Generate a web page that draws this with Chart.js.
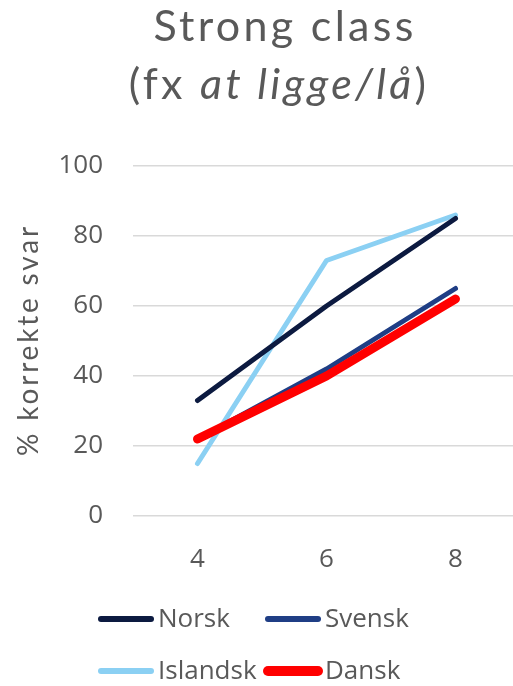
<!DOCTYPE html>
<html>
<head>
<meta charset="utf-8">
<script src="https://cdn.jsdelivr.net/npm/chart.js@4/dist/chart.umd.min.js"></script>
<style>
  html, body { margin: 0; padding: 0; background: #fff; overflow: hidden; }
  #wrap { position: relative; width: 513px; height: 686px; overflow: hidden; }
  .tline {
    position: absolute; width: 566px; text-align: center; white-space: nowrap;
    font-family: "Lato", "Open Sans", sans-serif; font-weight: 400;
    color: #595959; font-size: 43px; line-height: 50px; letter-spacing: 3.3px;
  }
  .tline i { font-style: italic; }
  canvas { position: absolute; left: 0; top: 0; }
</style>
</head>
<body>
<div id="wrap">
  <canvas id="c" width="540" height="686"></canvas>
  <div class="tline" style="top:0px; left:2px">Strong class</div>
  <div class="tline" style="top:58px; left:-4px">(fx <i>at ligge/lå</i>)</div>
</div>
<script>
// Grade levels on the x axis
const grades = ['4', '6', '8'];

// Share of correct answers (%) per language group
const norsk    = [33, 60, 85];
const svensk   = [22, 42, 65];
const islandsk = [15, 73, 86];
const dansk    = [22, 40, 62];

const yTicks = [0, 20, 40, 60, 80, 100];
const yTitle = '% korrekte svar';

const TEXT = '#595959';
const GRID = '#d9d9d9';

function series(label, data, color, width, order) {
  return {
    label, data, order,
    borderColor: color, backgroundColor: color,
    borderWidth: width, pointRadius: 0, pointHoverRadius: 0,
    borderCapStyle: 'round', borderJoinStyle: 'round',
    tension: 0, fill: false
  };
}

// Rotated value-axis title with wide letter spacing
const axisTitle = {
  id: 'axisTitle',
  afterDraw(chart) {
    const ctx = chart.ctx;
    const a = chart.chartArea;
    ctx.save();
    ctx.translate(29, (a.top + a.bottom) / 2);
    ctx.rotate(-Math.PI / 2);
    ctx.font = '400 28px "Lato", "Open Sans", sans-serif';
    if ('letterSpacing' in ctx) ctx.letterSpacing = '2.8px';
    ctx.fillStyle = TEXT;
    ctx.textAlign = 'center';
    ctx.textBaseline = 'middle';
    ctx.fillText(yTitle, 1, 0);
    ctx.restore();
  }
};

// Two-column legend under the plot
const gridLegend = {
  id: 'gridLegend',
  afterDraw(chart) {
    const ctx = chart.ctx;
    const cols = [98, 265];
    const rows = [619, 671];
    ctx.save();
    ctx.font = '26px "Open Sans", sans-serif';
    ctx.fillStyle = TEXT;
    ctx.textBaseline = 'middle';
    ctx.textAlign = 'left';
    chart.data.datasets.forEach((ds, i) => {
      const x = cols[i % 2];
      const y = rows[Math.floor(i / 2)];
      ctx.strokeStyle = ds.borderColor;
      ctx.lineWidth = ds.borderWidth + 1;
      ctx.lineCap = 'round';
      ctx.beginPath();
      ctx.moveTo(x + 3, y);
      ctx.lineTo(x + 53, y);
      ctx.stroke();
      ctx.fillText(ds.label, x + 60, y + 1);
    });
    ctx.restore();
  }
};

new Chart(document.getElementById('c'), {
  type: 'line',
  data: {
    labels: grades,
    datasets: [
      series('Norsk', norsk, '#0c1a40', 5, 2),
      series('Svensk', svensk, '#1f3e85', 5, 3),
      series('Islandsk', islandsk, '#8bd0f3', 5, 4),
      series('Dansk', dansk, '#ff0000', 9, 1)
    ]
  },
  options: {
    responsive: false,
    animation: false,
    events: [],
    layout: { padding: { left: 0, top: 166, right: 20, bottom: 0 } },
    plugins: {
      legend: { display: false },
      title: { display: false },
      tooltip: { enabled: false }
    },
    scales: {
      x: {
        offset: true,
        grid: { display: false },
        border: { display: false },
        ticks: {
          color: TEXT,
          font: { family: '"Open Sans", sans-serif', size: 26 },
          padding: 20
        },
        afterFit(s) { s.height = 170; }
      },
      y: {
        min: 0, max: 100,
        afterBuildTicks(s) { s.ticks = yTicks.map(v => ({ value: v })); },
        grid: { color: GRID, lineWidth: 1.6, drawTicks: false },
        border: { display: false },
        ticks: {
          color: TEXT,
          font: { family: '"Open Sans", sans-serif', size: 26 },
          padding: 30
        },
        title: { display: false },
        afterFit(s) { s.width = 133; }
      }
    }
  },
  plugins: [axisTitle, gridLegend]
});
</script>
</body>
</html>
